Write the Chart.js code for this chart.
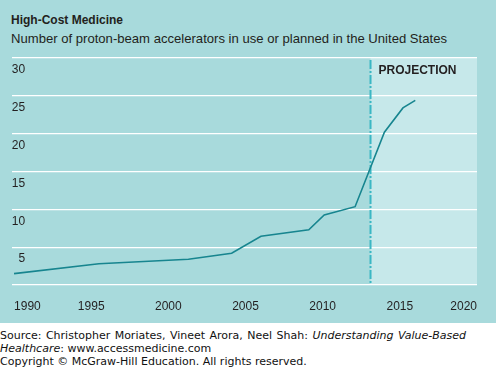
<!DOCTYPE html>
<html lang="en">
<head>
    <meta charset="UTF-8">
    <title>High-Cost Medicine</title>
    <style>
        body {
            margin: 0;
            width: 496px;
            height: 368px;
            background: #ffffff;
            position: relative;
            overflow: hidden;
        }
        .panel {
            position: absolute;
            left: 0;
            top: 0;
            width: 496px;
            height: 323px;
            background-color: #a8dadc;
        }
        .titulo {
            position: absolute;
            left: 11px;
            top: 13px;
            font: bold 12px "Liberation Sans", Arial, sans-serif;
            color: #231f20;
        }
        .subtitulo {
            position: absolute;
            left: 11px;
            top: 31px;
            font: 13.1px "Liberation Sans", Arial, sans-serif;
            color: #231f20;
        }
        canvas {
            position: absolute;
            left: 0;
            top: 0;
        }
        .fonte {
            position: absolute;
            left: 0;
            top: 329px;
            width: 466px;
            text-align: justify;
            font: 11px "DejaVu Sans", Verdana, sans-serif;
            line-height: 13px;
            color: #111;
        }
    </style>
</head>
<body>

<div class="panel">
    <div class="titulo">High-Cost Medicine</div>
    <div class="subtitulo">Number of proton-beam accelerators in use or planned in the United States</div>
    <canvas id="grafico" width="496" height="323"></canvas>
</div>
<div class="fonte">Source: Christopher Moriates, Vineet Arora, Neel Shah: <i>Understanding Value-Based Healthcare</i>: www.accessmedicine.com<br>Copyright © McGraw-Hill Education. All rights reserved.</div>

<script src="https://cdn.jsdelivr.net/npm/chart.js"></script>
<script>
    // dados
    const anos = [1990, 1995.5, 2001.3, 2004.1, 2006, 2009.1, 2010.1, 2012.1, 2014, 2015.2, 2016];
    const aceleradores = [1.5, 2.8, 3.4, 4.2, 6.45, 7.3, 9.25, 10.35, 20.2, 23.4, 24.4];
    const ticksAnos = [1990, 1995, 2000, 2005, 2010, 2015, 2020];
    const ticksValores = [0, 5, 10, 15, 20, 25, 30];
    const inicioProjecao = 2013.1;

    // fundo claro da projeção + linha tracejada
    const projecao = {
        id: 'projecao',
        beforeDraw(chart) {
            const { ctx, chartArea, scales } = chart;
            const x = scales.x.getPixelForValue(inicioProjecao);
            ctx.save();
            ctx.fillStyle = '#c6e8ea';
            ctx.fillRect(x, chartArea.top, chartArea.right - x, chartArea.bottom - chartArea.top);
            ctx.restore();
        },
        beforeDatasetsDraw(chart) {
            const { ctx, chartArea, scales } = chart;
            const x = scales.x.getPixelForValue(inicioProjecao);
            ctx.save();
            ctx.strokeStyle = '#3ab7c4';
            ctx.lineWidth = 2;
            ctx.setLineDash([9, 2, 2, 2]);
            ctx.beginPath();
            ctx.moveTo(x, chartArea.top + 2);
            ctx.lineTo(x, chartArea.bottom);
            ctx.stroke();
            ctx.setLineDash([]);
            ctx.fillStyle = '#231f20';
            ctx.font = 'bold 12px "Liberation Sans", Arial, sans-serif';
            ctx.textBaseline = 'middle';
            ctx.fillText('PROJECTION', x + 8, chartArea.top + 13);
            ctx.restore();
        }
    };

    const ctx = document.getElementById('grafico').getContext('2d');
    const chart = new Chart(ctx, {
        type: 'line',
        data: {
            datasets: [{
                label: 'Accelerators',
                data: anos.map((a, i) => ({ x: a, y: aceleradores[i] })),
                borderColor: '#17858f',
                borderWidth: 1.6,
                pointRadius: 0,
                tension: 0,
                fill: false
            }]
        },
        options: {
            responsive: false,
            animation: false,
            layout: {
                padding: { top: 58, left: 11, right: 19, bottom: 0 }
            },
            plugins: {
                legend: { display: false },
                tooltip: { enabled: false }
            },
            scales: {
                x: {
                    type: 'linear',
                    min: 1989.85,
                    max: 2020,
                    afterBuildTicks(scale) {
                        scale.ticks = ticksAnos.map(v => ({ value: v }));
                    },
                    afterFit(scale) {
                        scale.height = 38;
                    },
                    grid: { display: false, drawTicks: false },
                    border: { display: false },
                    ticks: {
                        align: 'inner',
                        padding: 14,
                        color: '#231f20',
                        font: { family: '"Liberation Sans", Arial, sans-serif', size: 12 },
                        callback: v => String(v)
                    }
                },
                y: {
                    min: 0,
                    max: 30,
                    afterBuildTicks(scale) {
                        scale.ticks = ticksValores.map(v => ({ value: v }));
                    },
                    afterFit(scale) {
                        scale.width = 0;
                    },
                    grid: { color: '#ffffff', lineWidth: 1.3, drawTicks: false },
                    border: { display: false },
                    ticks: {
                        mirror: true,
                        crossAlign: 'far',
                        padding: 0,
                        labelOffset: 12,
                        color: '#231f20',
                        font: { family: '"Liberation Sans", Arial, sans-serif', size: 12 },
                        callback: v => v === 0 ? '' : String(v)
                    }
                }
            }
        },
        plugins: [projecao]
    });
</script>

</body>
</html>
